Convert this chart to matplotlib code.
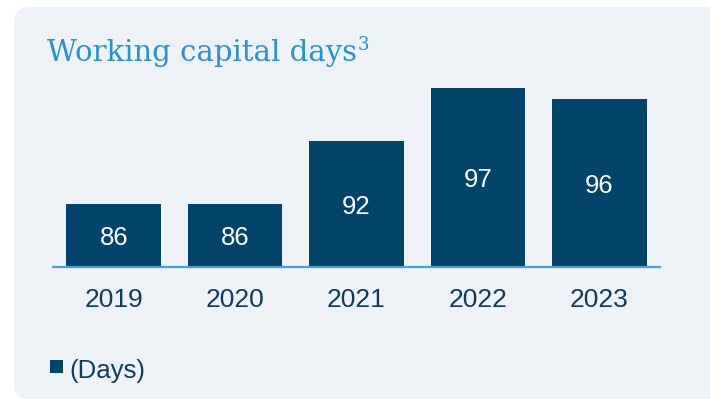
import matplotlib
matplotlib.use("Agg")
import matplotlib.pyplot as plt
import matplotlib.transforms as mtransforms
from matplotlib.patches import FancyBboxPatch, Rectangle

years = ["2019", "2020", "2021", "2022", "2023"]
days = [86, 86, 92, 97, 96]
title = "Working capital days"
title_note = "3"
legend_label = "(Days)"

BAR = "#02436a"
TEXT = "#0e3c5f"
TITLE = "#2b92c7"
BASE = "#4aa0d2"
PANEL = "#eef2f6"

plt.rcParams["font.family"] = ["Liberation Sans", "DejaVu Sans"]

W, H = 710, 401
fig = plt.figure(figsize=(W / 100, H / 100), dpi=100)
fig.patch.set_facecolor("white")
px = mtransforms.IdentityTransform()

# rounded background card, runs off the right edge
card = FancyBboxPatch((14, 2), 740, H - 9, boxstyle="round,pad=0,rounding_size=15",
                      transform=px, facecolor=PANEL, edgecolor="none", zorder=-5)
fig.patches.append(card)

# title plus raised footnote marker right after it
t = fig.text(47 / W, 1 - 61 / H, title, family="DejaVu Serif", fontsize=21,
             color=TITLE, ha="left", va="baseline")
bb = t.get_window_extent(renderer=fig.canvas.get_renderer())
fig.text((bb.x1 + 1) / W, 1 - 50 / H, title_note, family="DejaVu Serif", fontsize=13,
         color=TITLE, ha="left", va="baseline")

ax = fig.add_axes([53 / W, (H - 267.3) / H, 607 / W, 210.6 / H])
ax.set_facecolor("none")
ax.set_zorder(2)
x = range(len(years))
ax.bar(x, [d - 80 for d in days], bottom=80, width=0.78, color=BAR, zorder=2)
for i, d in zip(x, days):
    ax.text(i, (80 + d) / 2, str(d), ha="center", va="center_baseline",
            color="white", fontsize=18.5, zorder=3)

ax.set_xlim(-0.5, 4.5)
ax.set_ylim(80, 100)
ax.set_xticks(list(x))
ax.set_xticklabels(years)
ax.set_yticks([])
ax.tick_params(axis="x", length=0, labelsize=19, labelcolor=TEXT, pad=15)
for side in ["top", "left", "right"]:
    ax.spines[side].set_visible(False)
ax.spines["bottom"].set_color(BASE)
ax.spines["bottom"].set_linewidth(1.6)
ax.spines["bottom"].set_zorder(4)

# legend key
fig.patches.append(Rectangle((50, H - 373.3), 13.3, 13.3, transform=px,
                             facecolor=BAR, edgecolor="none"))
fig.text(69 / W, 1 - 371 / H, legend_label, fontsize=18.5, color=TEXT,
         ha="left", va="center")

fig.savefig("out.png", dpi=100)
